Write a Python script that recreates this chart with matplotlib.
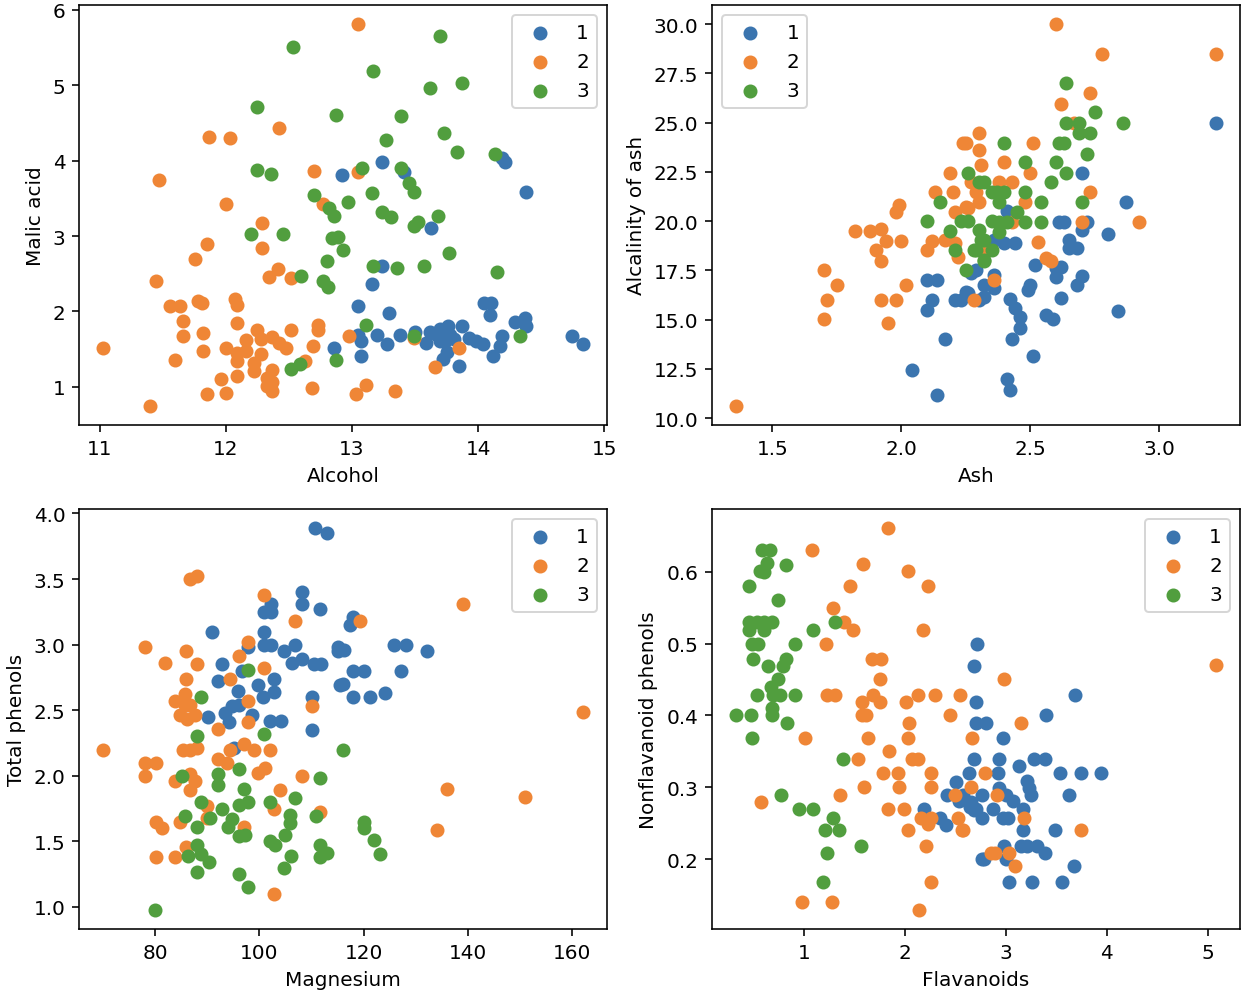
import matplotlib
matplotlib.use('Agg')
import matplotlib.pyplot as plt

## values, (x, y) per class
labels = ['1', '2', '3']
colors = ['#3b75af', '#ef8636', '#519e3e']

# Alcohol vs Malic acid
alc_malic_1 = [(13.24,3.98),(12.92,3.81),(13.41,3.85),(14.19,4.04),(14.21,3.98),(14.38,3.59),(13.63,3.11),
               (13.24,2.60),(13.16,2.36),(13.05,2.07),(13.29,1.98),(14.05,2.11),(14.10,2.11),(14.09,1.96),
               (14.29,1.86),(14.37,1.91),(14.38,1.81),(14.74,1.68),(14.83,1.57),(13.05,1.69),(13.20,1.69),
               (13.07,1.61),(13.07,1.41),(12.86,1.52),(13.28,1.57),(13.38,1.69),(13.50,1.73),(13.59,1.58),
               (13.62,1.73),(13.70,1.77),(13.76,1.81),(13.87,1.81),(13.72,1.37),(13.75,1.46),(13.74,1.61),
               (13.81,1.63),(13.93,1.65),(13.98,1.61),(14.04,1.57),(14.19,1.67),(14.17,1.54),(14.12,1.41),
               (13.85,1.28),(13.70,1.61),(13.78,1.69),(13.67,1.69)]
alc_malic_2 = [(13.05,5.81),(12.42,4.43),(11.87,4.32),(12.03,4.30),(11.47,3.74),(12.70,3.86),(12.0,3.43),
               (12.77,3.43),(12.29,3.17),(11.85,2.89),(12.29,2.84),(11.76,2.69),(11.45,2.41),(12.41,2.56),
               (12.34,2.46),(12.52,2.44),(11.56,2.07),(11.64,2.07),(11.66,1.88),(11.78,2.14),(11.81,2.11),
               (12.07,2.16),(12.09,2.08),(11.66,1.68),(11.82,1.72),(12.09,1.85),(12.25,1.75),(12.52,1.75),
               (12.73,1.82),(12.73,1.76),(11.03,1.52),(11.60,1.36),(11.82,1.48),(12.0,1.52),(12.16,1.62),
               (12.28,1.63),(12.37,1.66),(12.42,1.58),(12.48,1.52),(12.09,1.45),(12.09,1.35),(12.16,1.47),
               (12.28,1.43),(12.22,1.32),(12.22,1.21),(12.09,1.15),(11.96,1.11),(12.37,1.23),(12.33,1.12),
               (12.37,1.07),(12.33,1.01),(12.37,0.94),(12.63,1.35),(12.69,1.54),(12.68,0.99),(11.85,0.90),
               (12.0,0.92),(11.40,0.75),(12.98,1.68),(13.03,0.90),(13.11,1.02),(13.34,0.94),(13.66,1.26),
               (13.85,1.51),(13.49,1.65),(13.05,3.85)]
alc_malic_3 = [(12.53,5.51),(12.25,4.71),(12.87,4.61),(12.25,3.88),(12.36,3.82),(12.70,3.55),(12.97,3.45),
               (12.82,3.37),(12.86,3.27),(12.20,3.03),(12.45,3.03),(12.84,2.97),(12.89,2.99),(12.93,2.82),
               (12.80,2.67),(12.60,2.47),(12.77,2.40),(12.81,2.32),(12.87,1.36),(12.52,1.24),(12.59,1.30),
               (13.70,5.65),(13.17,5.19),(13.87,5.03),(13.62,4.96),(13.39,4.59),(13.27,4.28),(13.73,4.36),
               (13.83,4.11),(14.13,4.09),(13.08,3.90),(13.39,3.90),(13.45,3.70),(13.49,3.58),(13.16,3.57),
               (13.24,3.32),(13.31,3.25),(13.49,3.13),(13.52,3.18),(13.68,3.27),(13.77,2.77),(13.17,2.60),
               (13.36,2.58),(13.57,2.60),(14.15,2.52),(13.11,1.82),(13.49,1.68),(14.33,1.68)]

# Ash vs Alcalinity of ash
ash_alca_1 = [(2.10,17.02),(2.12,16.0),(2.10,15.49),(2.14,17.02),(2.17,14.0),(2.04,12.45),(2.14,11.18),
              (2.21,16.0),(2.25,16.42),(2.29,17.52),(2.32,16.76),(3.22,24.96),(2.70,22.46),(2.87,20.99),
              (2.41,20.53),(2.61,19.97),(2.63,19.97),(2.72,19.97),(2.70,19.55),(2.80,19.35),(2.36,19.04),
              (2.40,18.88),(2.44,18.88),(2.65,19.04),(2.65,18.62),(2.68,18.62),(2.52,17.78),(2.60,17.60),
              (2.62,17.69),(2.60,17.19),(2.70,17.22),(2.68,16.76),(2.36,17.27),(2.50,16.76),(2.49,16.51),
              (2.36,16.59),(2.26,16.34),(2.23,16.0),(2.30,16.0),(2.32,16.17),(2.62,16.08),(2.42,16.03),
              (2.44,15.58),(2.46,15.16),(2.46,14.57),(2.43,14.0),(2.84,15.46),(2.56,15.24),(2.59,15.02),
              (2.51,13.18),(2.41,11.98),(2.42,11.44),(2.27,17.36)]
ash_alca_2 = [(1.36,10.63),(1.70,17.52),(1.75,16.76),(1.71,16.0),(1.70,15.02),(1.82,19.52),(1.88,19.52),
              (1.92,19.59),(1.94,19.01),(1.90,18.54),(1.92,17.98),(2.0,19.01),(1.98,20.48),(1.99,20.82),
              (2.02,16.76),(1.92,16.0),(1.98,16.0),(1.95,14.82),(2.10,18.54),(2.12,19.01),(2.17,19.04),
              (2.21,18.88),(2.13,21.50),(2.19,22.46),(2.20,21.50),(2.21,20.48),(2.26,20.65),(2.30,20.99),
              (2.24,23.98),(2.30,24.45),(2.30,23.61),(2.31,22.85),(2.27,22.0),(2.29,21.50),(2.22,18.20),
              (2.28,16.0),(2.60,30.0),(2.78,28.48),(3.22,28.48),(2.73,26.48),(2.62,25.94),(2.67,24.96),
              (2.25,23.98),(2.51,23.98),(2.40,22.98),(2.50,22.46),(2.38,22.0),(2.43,22.0),(2.73,21.50),
              (2.48,20.99),(2.25,20.74),(2.43,19.97),(2.70,19.97),(2.92,19.97),(2.53,18.96),(2.56,18.11),
              (2.58,17.98),(2.36,17.02),(2.32,18.45)]
ash_alca_3 = [(2.10,20.03),(2.15,20.99),(2.26,22.46),(2.30,22.0),(2.32,22.0),(2.19,19.52),(2.23,20.03),
              (2.26,20.03),(2.30,19.55),(2.21,18.54),(2.28,18.54),(2.32,19.04),(2.32,18.03),(2.25,17.52),
              (2.35,21.5),(2.35,20.03),(2.64,26.99),(2.75,25.52),(2.86,24.96),(2.64,24.96),(2.69,24.96),
              (2.69,24.45),(2.73,24.45),(2.61,23.98),(2.63,23.98),(2.40,23.98),(2.72,23.43),(2.48,22.98),
              (2.60,22.98),(2.64,22.46),(2.58,22.0),(2.37,21.5),(2.40,21.5),(2.48,21.5),(2.38,20.99),
              (2.54,20.99),(2.70,20.99),(2.45,20.48),(2.38,19.97),(2.41,19.97),(2.48,19.97),(2.54,19.97),
              (2.38,19.47),(2.31,19.04),(2.29,18.54),(2.35,18.54),(2.32,17.98)]

# Magnesium vs Total phenols
mg_phen_1 = [(110.7,3.89),(112.9,3.85),(108.1,3.40),(108.1,3.31),(111.7,3.27),(102.2,3.31),(100.9,3.25),
             (102.2,3.25),(100.9,3.10),(90.9,3.10),(100.9,3.0),(102.2,3.0),(97.9,2.98),(104.7,2.95),
             (106.8,3.0),(106.2,2.86),(108.1,2.89),(110.5,2.85),(111.9,2.85),(115.0,2.98),(115.0,2.95),
             (92.8,2.85),(96.6,2.80),(92.1,2.72),(95.9,2.65),(99.7,2.69),(102.8,2.74),(102.8,2.64),
             (100.7,2.60),(115.4,2.69),(110.1,2.60),(110.1,2.35),(90.2,2.45),(93.5,2.48),(94.8,2.53),
             (96.0,2.54),(94.1,2.41),(98.5,2.46),(102.0,2.42),(104.1,2.42),(95.2,2.21),(117.9,3.21),
             (117.3,3.15),(116.3,2.96),(125.8,3.0),(128.1,3.0),(132.1,2.95),(117.9,2.80),(120.1,2.80),
             (127.1,2.80),(116.0,2.70),(117.9,2.60),(121.2,2.60),(124.1,2.63)]
mg_phen_2 = [(70.1,2.20),(78.0,2.98),(81.9,2.86),(86.0,2.95),(88.1,2.85),(86.0,2.74),(86.8,3.50),
             (88.1,3.52),(100.9,3.38),(106.8,3.18),(97.9,3.02),(96.0,2.91),(100.9,2.82),(94.4,2.74),
             (97.9,2.57),(97.9,2.41),(110.0,2.53),(83.9,2.57),(85.8,2.62),(86.8,2.54),(84.8,2.46),
             (86.1,2.43),(87.7,2.46),(85.8,2.54),(92.1,2.36),(85.4,2.20),(88.1,2.21),(86.8,2.20),
             (94.4,2.20),(92.0,2.13),(93.8,2.10),(97.0,2.24),(98.9,2.20),(102.0,2.20),(78.0,2.10),
             (80.1,2.10),(78.0,2.0),(83.9,1.96),(86.8,2.01),(87.7,1.96),(86.8,1.89),(99.8,2.02),
             (101.0,2.06),(108.1,2.0),(103.9,1.89),(90.0,1.77),(102.8,1.75),(111.7,1.72),(80.1,1.65),
             (81.3,1.60),(84.8,1.65),(90.0,1.68),(97.0,1.61),(86.0,1.46),(80.1,1.38),(83.9,1.38),
             (102.8,1.10),(139.0,3.31),(119.2,3.18),(162.0,2.49),(136.0,1.90),(150.9,1.84),(134.0,1.59)]
mg_phen_3 = [(97.9,2.81),(88.9,2.60),(88.1,2.30),(100.9,2.32),(116.0,2.20),(85.2,2.0),(92.1,2.01),
             (92.1,1.93),(96.0,2.05),(97.0,1.90),(106.8,1.83),(111.7,1.98),(88.9,1.80),(92.8,1.75),
             (96.0,1.78),(97.9,1.80),(102.0,1.80),(105.8,1.70),(105.8,1.64),(110.9,1.69),(85.8,1.69),
             (88.1,1.61),(90.6,1.68),(94.7,1.67),(93.9,1.61),(96.0,1.54),(97.2,1.55),(104.9,1.55),
             (102.0,1.50),(103.0,1.47),(88.1,1.47),(88.9,1.40),(90.4,1.34),(86.3,1.39),(88.1,1.27),
             (106.0,1.39),(111.7,1.47),(111.7,1.38),(113.0,1.41),(104.8,1.30),(96.0,1.25),(97.9,1.15),
             (80.0,0.98),(120.0,1.65),(120.0,1.60),(122.0,1.51),(123.2,1.40)]

# Flavanoids vs Nonflavanoid phenols
flav_nonf_1 = [(2.71,0.50),(2.68,0.469),(2.70,0.419),(2.70,0.389),(2.68,0.34),(2.63,0.32),(2.51,0.308),
               (2.42,0.289),(2.58,0.289),(2.65,0.28),(2.70,0.27),(2.19,0.27),(2.35,0.258),(2.41,0.248),
               (2.76,0.20),(2.80,0.389),(3.40,0.401),(3.68,0.429),(2.97,0.369),(2.93,0.34),(3.28,0.34),
               (3.39,0.34),(3.13,0.33),(2.92,0.32),(3.54,0.32),(3.74,0.32),(3.94,0.32),(3.21,0.309),
               (3.23,0.299),(3.25,0.289),(3.63,0.289),(2.76,0.289),(2.93,0.299),(3.0,0.289),(3.07,0.281),
               (2.54,0.281),(2.64,0.273),(2.68,0.268),(2.76,0.258),(2.87,0.27),(2.97,0.258),(3.02,0.258),
               (3.17,0.27),(3.17,0.24),(3.49,0.24),(2.98,0.219),(3.15,0.219),(3.21,0.219),(3.31,0.219),
               (3.39,0.208),(3.0,0.20),(2.78,0.20),(3.67,0.19),(3.03,0.169),(3.26,0.169),(3.56,0.169)]
flav_nonf_2 = [(1.83,0.661),(1.08,0.63),(1.58,0.611),(2.03,0.601),(2.23,0.58),(1.46,0.58),(1.29,0.55),
               (1.40,0.53),(1.49,0.519),(2.18,0.519),(1.22,0.50),(1.67,0.479),(1.76,0.479),(1.75,0.451),
               (1.23,0.429),(1.31,0.429),(1.68,0.429),(1.75,0.419),(1.57,0.419),(1.57,0.401),(1.61,0.401),
               (2.01,0.419),(2.13,0.429),(2.30,0.429),(2.55,0.429),(2.45,0.401),(2.04,0.389),(2.03,0.369),
               (1.63,0.369),(1.01,0.369),(2.66,0.369),(1.84,0.35),(1.54,0.34),(2.07,0.34),(2.13,0.34),
               (1.78,0.32),(1.93,0.32),(2.26,0.32),(1.94,0.30),(2.26,0.30),(1.59,0.30),(1.36,0.289),
               (2.50,0.289),(2.65,0.30),(0.57,0.28),(1.83,0.27),(1.99,0.27),(2.16,0.258),(2.26,0.258),
               (2.23,0.249),(2.53,0.258),(2.03,0.24),(2.58,0.24),(2.21,0.219),(2.26,0.169),(0.98,0.14),
               (1.28,0.14),(2.14,0.13),(5.08,0.47),(2.98,0.451),(3.15,0.389),(2.79,0.32),(2.91,0.289),
               (3.18,0.258),(2.57,0.24),(3.74,0.24),(2.85,0.208),(2.89,0.208),(3.03,0.208),(3.09,0.19)]
flav_nonf_3 = [(0.58,0.63),(0.66,0.63),(0.63,0.612),(0.56,0.601),(0.60,0.60),(0.82,0.61),(0.46,0.58),
               (0.74,0.561),(0.46,0.53),(0.53,0.53),(0.60,0.53),(0.68,0.53),(0.46,0.519),(0.60,0.519),
               (1.09,0.519),(1.31,0.53),(0.49,0.50),(0.54,0.50),(0.91,0.50),(0.50,0.479),(0.64,0.469),
               (0.79,0.469),(0.82,0.479),(0.74,0.451),(0.67,0.44),(0.53,0.429),(0.69,0.429),(0.76,0.429),
               (0.91,0.429),(0.68,0.41),(0.68,0.401),(0.33,0.401),(0.48,0.401),(0.83,0.389),(0.49,0.369),
               (1.39,0.34),(0.77,0.289),(0.95,0.27),(1.09,0.27),(1.29,0.258),(1.21,0.24),(1.35,0.24),
               (1.56,0.219),(1.23,0.208),(1.19,0.169)]

panels = [
    ('Alcohol', 'Malic acid', [alc_malic_1, alc_malic_2, alc_malic_3], 'upper right'),
    ('Ash', 'Alcalinity of ash', [ash_alca_1, ash_alca_2, ash_alca_3], 'upper left'),
    ('Magnesium', 'Total phenols', [mg_phen_1, mg_phen_2, mg_phen_3], 'upper right'),
    ('Flavanoids', 'Nonflavanoid phenols', [flav_nonf_1, flav_nonf_2, flav_nonf_3], 'upper right'),
]

fig, axes = plt.subplots(2, 2, figsize=(8.75, 6.979), dpi=144)
fig.subplots_adjust(left=0.063, right=0.984, top=0.994, bottom=0.075, wspace=0.2, hspace=0.2)

for ax, (xlab, ylab, groups, loc) in zip(axes.flat, panels):
    for pts, lab, col in zip(groups, labels, colors):
        xs, ys = zip(*pts)
        ax.scatter(xs, ys, label=lab, color=col)
    ax.set_xlabel(xlab)
    ax.set_ylabel(ylab)
    ax.legend(loc=loc)

fig.savefig('out.png', dpi=144)
